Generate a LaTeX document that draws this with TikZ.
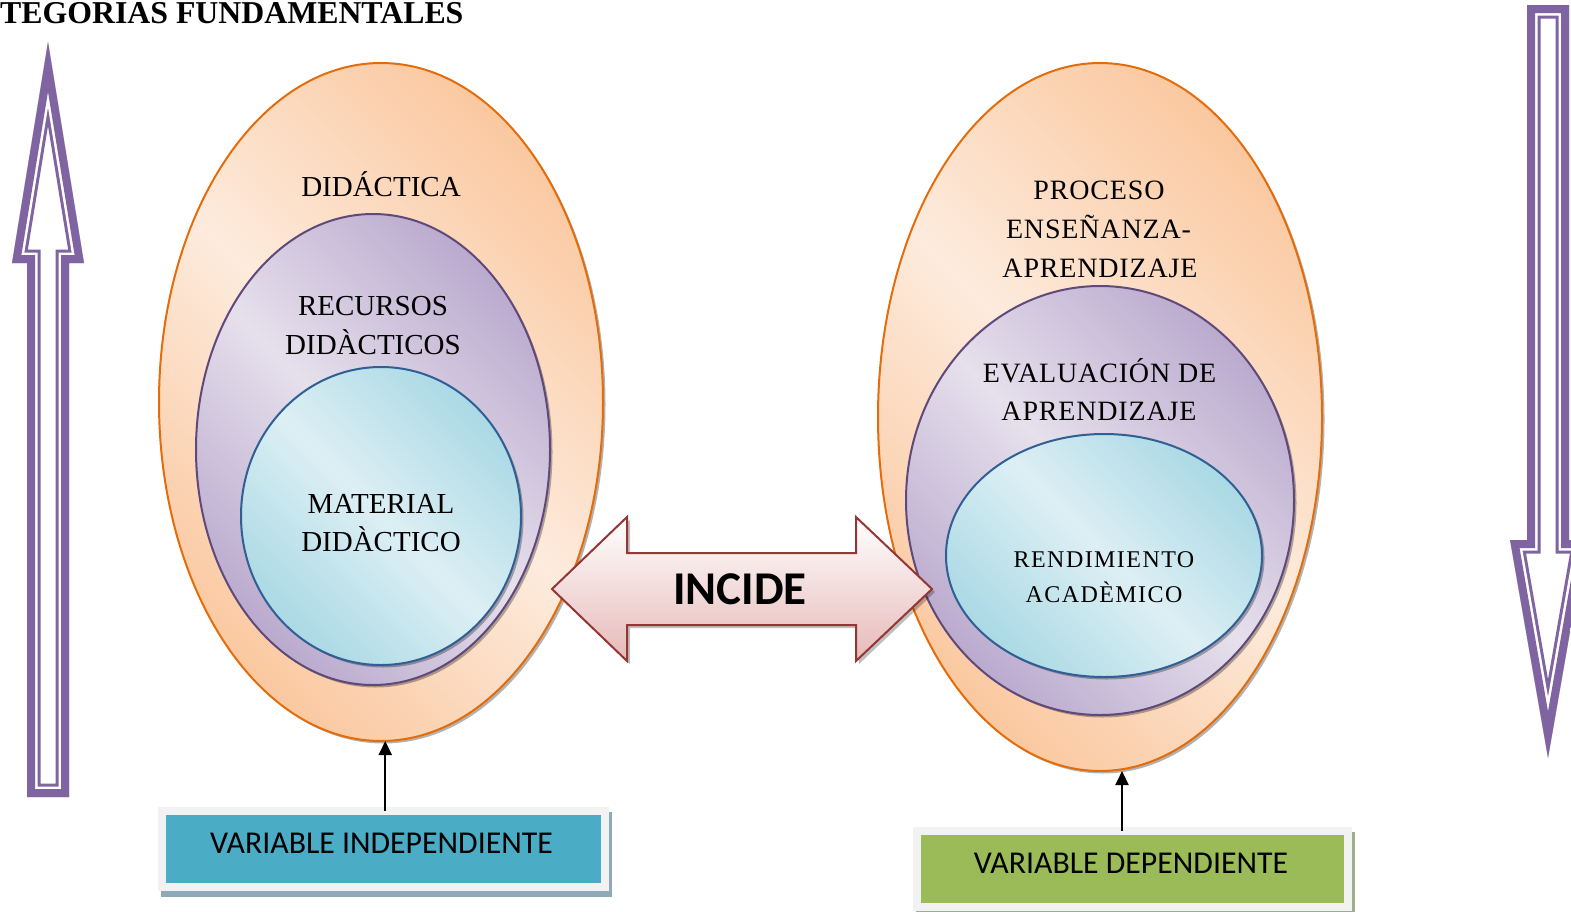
\documentclass[tikz,border=0pt]{standalone}
\usepackage{fontspec}
\setmainfont{Liberation Serif}
\newfontfamily\calibri{Carlito}
\usetikzlibrary{shapes.geometric,shadows,arrows.meta}
\definecolor{ordark}{HTML}{FAC59A}
\definecolor{orlight}{HTML}{FDEBDD}
\definecolor{orborder}{HTML}{E46C0A}
\definecolor{pudark}{HTML}{B9A8CD}
\definecolor{pulight}{HTML}{E6E0EC}
\definecolor{puborder}{HTML}{5F497A}
\definecolor{cydark}{HTML}{A8D8E4}
\definecolor{cylight}{HTML}{DDEFF4}
\definecolor{cyborder}{HTML}{2F5F93}
\definecolor{incborder}{HTML}{943634}
\definecolor{incbot}{HTML}{E6B9B8}
\definecolor{bigarrow}{HTML}{8064A2}
\definecolor{boxblue}{HTML}{4BACC6}
\definecolor{boxgreen}{HTML}{9BBB59}
\definecolor{frame}{HTML}{F2F2F2}
\definecolor{blueshadow}{HTML}{8FA9B9}
\definecolor{greenshadow}{HTML}{A0AC90}
\pgfdeclarehorizontalshading{orshade}{100bp}{color(0bp)=(ordark); color(22bp)=(ordark); color(50bp)=(orlight); color(78bp)=(ordark); color(100bp)=(ordark)}
\pgfdeclarehorizontalshading{pushade}{100bp}{color(0bp)=(pudark); color(24bp)=(pudark); color(50bp)=(pulight); color(76bp)=(pudark); color(100bp)=(pudark)}
\pgfdeclarehorizontalshading{cyshade}{100bp}{color(0bp)=(cydark); color(24bp)=(cydark); color(50bp)=(cylight); color(76bp)=(cydark); color(100bp)=(cydark)}
\begin{document}
\begin{tikzpicture}[x=1pt,y=-1pt,line join=miter,
  ell/.style={ellipse, inner sep=0pt, outer sep=0pt, line width=2pt, shade, shading angle=45,
    drop shadow={shadow xshift=2.5pt, shadow yshift=-2.5pt, fill=black, opacity=0.3}},
  orell/.style={ell, draw=orborder, shading=orshade},
  puell/.style={ell, draw=puborder, shading=pushade},
  cyell/.style={ell, draw=cyborder, shading=cyshade},
  lbl/.style={anchor=base, inner sep=0pt, font=\fontsize{29}{30}\selectfont},
  lblr/.style={anchor=base, inner sep=0pt, font=\fontsize{28}{30}\selectfont\addfontfeature{LetterSpace=3}},
  lbls/.style={anchor=base, inner sep=0pt, font=\fontsize{24}{26}\selectfont\addfontfeature{LetterSpace=6}},
  varbox/.style={draw=frame, line width=8pt, inner sep=0pt, outer sep=0pt},
  boxtxt/.style={inner sep=0pt, font=\calibri\fontsize{31.8}{32}\selectfont},
  conn/.style={line width=2.2pt, -{Triangle[width=13pt,length=14pt]}},
]
\useasboundingbox (0,0) rectangle (1571,911);

% title
\node[anchor=base west, inner sep=0pt, font=\bfseries\fontsize{31.8}{32}\selectfont] (title) at (0,23) {TEGORIAS FUNDAMENTALES};

% left ellipses
\node[orell, minimum width=444pt, minimum height=678pt] (lo) at (381,402) {};
\node[puell, minimum width=354pt, minimum height=471pt] (lp) at (373,449.5) {};
\node[cyell, minimum width=280pt, minimum height=298pt] (lc) at (381,516) {};
\node[lbl] (t1) at (381,196.5) {DIDÁCTICA};
\node[lbl] (t2) at (373,315.5) {RECURSOS};
\node[lbl] (t3) at (373,354.5) {DIDÀCTICOS};
\node[lbl] (t4) at (381,513.5) {MATERIAL};
\node[lbl] (t5) at (381,551.5) {DIDÀCTICO};

% right ellipses
\node[orell, minimum width=444pt, minimum height=708pt] (ro) at (1100,417) {};
\node[puell, minimum width=388pt, minimum height=429pt] (rp) at (1100,500.5) {};
\node[cyell, minimum width=316pt, minimum height=243pt] (rc) at (1104,555.5) {};
\node[lblr] (u1) at (1099,199.5) {PROCESO};
\node[lblr] (u2) at (1098.5,238.5) {ENSEÑANZA-};
\node[lblr] (u3) at (1100,277.5) {APRENDIZAJE};
\node[lblr] (u4) at (1099.5,382.5) {EVALUACIÓN DE};
\node[lblr] (u5) at (1099,420.5) {APRENDIZAJE};
\node[lbls] (u6) at (1104,567) {RENDIMIENTO};
\node[lbls] (u7) at (1104,602) {ACADÈMICO};

% INCIDE double arrow
\fill[black, opacity=0.25, shift={(3,3)}] (552,589) -- (627,517) -- (627,553) -- (856,553) -- (856,517) -- (932,589) -- (856,661) -- (856,625) -- (627,625) -- (627,661) -- cycle;
\shade[top color=white, bottom color=incbot, draw=incborder, line width=2pt] (552,589) -- (627,517) -- (627,553) -- (856,553) -- (856,517) -- (932,589) -- (856,661) -- (856,625) -- (627,625) -- (627,661) -- cycle;
\node[inner sep=0pt, font=\calibri\bfseries\fontsize{47}{47}\selectfont] (inc) at (740,589.5) {INCIDE};

% variable boxes
\fill[blueshadow] (161,812) rectangle (612,897);
\node[varbox, fill=boxblue, minimum width=442.5pt, minimum height=76pt] (vi) at (383.25,848.5) {};
\node[boxtxt] (vit) at (381.5,843.5) {VARIABLE INDEPENDIENTE};
\fill[greenshadow] (916,832) rectangle (1355,916);
\node[varbox, fill=boxgreen, minimum width=431pt, minimum height=76.5pt] (vd) at (1132.5,868.75) {};
\node[boxtxt] (vdt) at (1131,863.5) {VARIABLE DEPENDIENTE};

% connectors
\draw[conn] ([xshift=2pt]vi.north) -- ([xshift=2pt]vi.north |- lo.south);
\draw[conn] ([xshift=-10.5pt]vd.north) -- ([xshift=-10.5pt]vd.north |- ro.south);

% big purple arrows
\begin{scope}
  \clip (48,42) -- (84,263) -- (69,263) -- (69,797) -- (27,797) -- (27,263) -- (12,263) -- cycle;
  \fill[white] (48,42) -- (84,263) -- (69,263) -- (69,797) -- (27,797) -- (27,263) -- (12,263) -- cycle;
  \draw[bigarrow, line width=27pt] (48,42) -- (84,263) -- (69,263) -- (69,797) -- (27,797) -- (27,263) -- (12,263) -- cycle;
  \draw[white, line width=21pt] (48,42) -- (84,263) -- (69,263) -- (69,797) -- (27,797) -- (27,263) -- (12,263) -- cycle;
  \draw[bigarrow, line width=16pt] (48,42) -- (84,263) -- (69,263) -- (69,797) -- (27,797) -- (27,263) -- (12,263) -- cycle;
\end{scope}
\begin{scope}
  \clip (1527,5) -- (1569,5) -- (1569,540) -- (1586,540) -- (1548,758) -- (1510,540) -- (1527,540) -- cycle;
  \fill[white] (1527,5) -- (1569,5) -- (1569,540) -- (1586,540) -- (1548,758) -- (1510,540) -- (1527,540) -- cycle;
  \draw[bigarrow, line width=27pt] (1527,5) -- (1569,5) -- (1569,540) -- (1586,540) -- (1548,758) -- (1510,540) -- (1527,540) -- cycle;
  \draw[white, line width=21pt] (1527,5) -- (1569,5) -- (1569,540) -- (1586,540) -- (1548,758) -- (1510,540) -- (1527,540) -- cycle;
  \draw[bigarrow, line width=16pt] (1527,5) -- (1569,5) -- (1569,540) -- (1586,540) -- (1548,758) -- (1510,540) -- (1527,540) -- cycle;
\end{scope}
\end{tikzpicture}
\end{document}
